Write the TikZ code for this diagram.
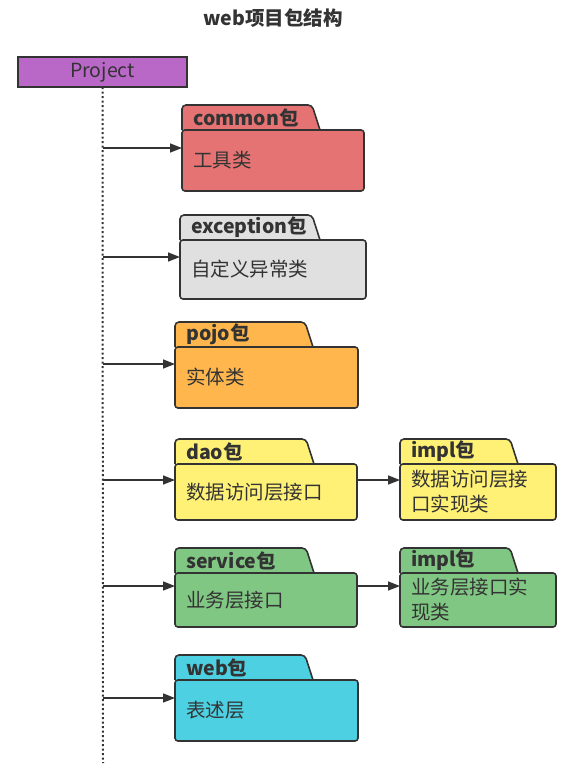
\documentclass[tikz,border=0pt]{standalone}
\usepackage{fontspec}
\setmainfont{Noto Sans CJK SC}
\usetikzlibrary{arrows.meta,backgrounds}
\definecolor{linec}{HTML}{333333}
\definecolor{cpurple}{HTML}{BA68C8}
\definecolor{cred}{HTML}{E57373}
\definecolor{cgray}{HTML}{E0E0E0}
\definecolor{corange}{HTML}{FFB74D}
\definecolor{cyellow}{HTML}{FFF176}
\definecolor{cgreen}{HTML}{81C784}
\definecolor{ccyan}{HTML}{4DD0E1}
\newcommand{\pkgfont}{\fontsize{19.5}{25}\selectfont}
\tikzset{
	pkgline/.style = {draw=linec, line width=1.6pt},
	pkgbody/.style n args = {3}{pkgline, rounded corners=3pt, outer sep=0pt,
	 anchor=north west, align=left, inner xsep=11pt, inner ysep=0pt,
	 minimum width=#1, text width=#1-22pt, minimum height=#2, fill=#3},
	tabtext/.style = {anchor=west, inner sep=0pt, font=\pkgfont\bfseries},
	arr/.style = {draw=linec, line width=1.6pt, -{Triangle[length=12pt,width=9pt]}},
	stem/.style = {draw=linec, line width=2pt, dash pattern=on 2pt off 2.5pt}}
% tab of a package: node, width, colour
\newcommand{\pkgtab}[3]{%
	\begin{scope}[on background layer]
	 \filldraw [pkgline, fill=#3, rounded corners=4pt] (#1.north west) -- ++(0,-25) -- ++(#2-8,0) -- ++(8,25);
	\end{scope}}

\begin{document}
\begin{tikzpicture}[x=1pt, y=-1pt, text=linec, font=\pkgfont]
\useasboundingbox (0,0) rectangle (587,782);

% NODES
\node (title) at (273,18) [font=\pkgfont\bfseries] {web项目包结构};
\node (project) [pkgline, fill=cpurple, outer sep=0pt, anchor=north west, minimum width=169, minimum height=30, inner sep=0pt] at (18,57) {Project};
\coordinate (stemend) at (103,763);
% packages
\node (common) [pkgbody={182}{61}{cred}] at (182,130) {工具类};
\node (exception) [pkgbody={186}{59}{cgray}] at (180,240) {自定义异常类};
\node (pojo) [pkgbody={183}{61}{corange}] at (175,347) {实体类};
\node (dao) [pkgbody={182}{56}{cyellow}] at (175,464) {数据访问层接口};
\node (service) [pkgbody={182}{54}{cgreen}] at (175,573) {业务层接口};
\node (web) [pkgbody={183}{61}{ccyan}] at (175,680) {表述层};
% impl packages
\node (daoimpl) [pkgbody={156}{56}{cyellow}] at (400,464) {数据访问层接\\口实现类};
\node (serviceimpl) [pkgbody={156}{54}{cgreen}] at (400,573) {业务层接口实\\现类};
% tabs
\pkgtab{common}{138}{cred}
\pkgtab{exception}{140}{cgray}
\pkgtab{pojo}{138}{corange}
\pkgtab{dao}{139}{cyellow}
\pkgtab{service}{139}{cgreen}
\pkgtab{web}{138}{ccyan}
\pkgtab{daoimpl}{118}{cyellow}
\pkgtab{serviceimpl}{118}{cgreen}
\node (commontab) [tabtext] at ([xshift=11pt, yshift=12.5pt]common.north west) {common包};
\node (exceptiontab) [tabtext] at ([xshift=11pt, yshift=12.5pt]exception.north west) {exception包};
\node (pojotab) [tabtext] at ([xshift=11pt, yshift=12.5pt]pojo.north west) {pojo包};
\node (daotab) [tabtext] at ([xshift=11pt, yshift=12.5pt]dao.north west) {dao包};
\node (servicetab) [tabtext] at ([xshift=11pt, yshift=12.5pt]service.north west) {service包};
\node (webtab) [tabtext] at ([xshift=11pt, yshift=12.5pt]web.north west) {web包};
\node (daoimpltab) [tabtext] at ([xshift=11pt, yshift=12.5pt]daoimpl.north west) {impl包};
\node (serviceimpltab) [tabtext] at ([xshift=11pt, yshift=12.5pt]serviceimpl.north west) {impl包};

% CONNECTIONS
\draw [stem] (project.south) -- (stemend);
\foreach \pk/\dy in {common/18, exception/17, pojo/17, dao/16, service/13, web/18}
	\draw [arr] ([yshift=-\dy pt]project.south |- \pk.north west) -- ([yshift=-\dy pt]\pk.north west);
\draw [arr] ([yshift=-16pt]dao.north east) -- ([yshift=-16pt]daoimpl.north west);
\draw [arr] ([yshift=-13pt]service.north east) -- ([yshift=-13pt]serviceimpl.north west);

\end{tikzpicture}
\end{document}
